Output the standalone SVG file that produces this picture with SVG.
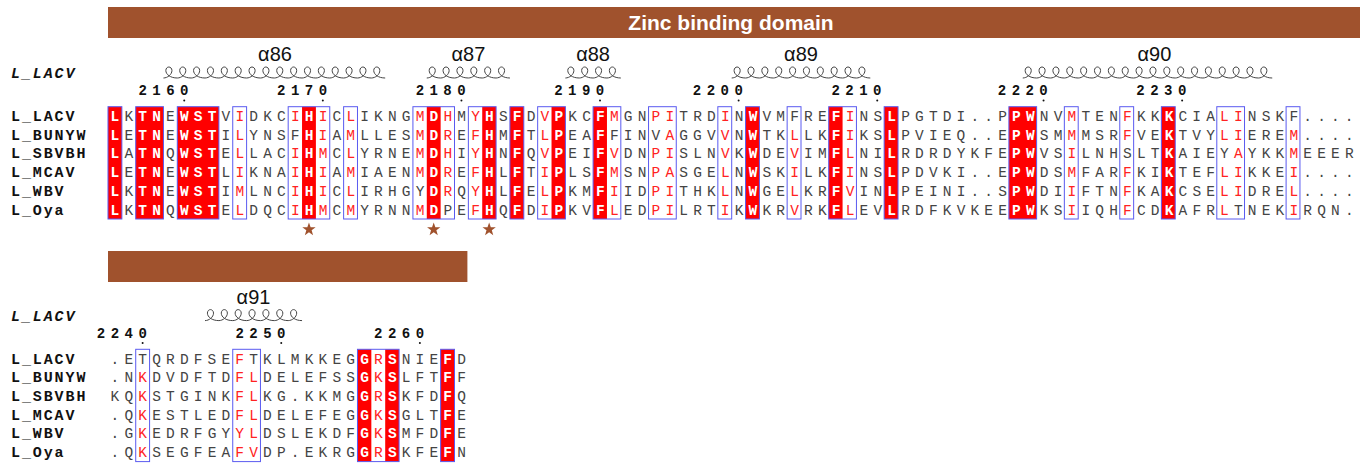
<svg xmlns="http://www.w3.org/2000/svg" xmlns:xlink="http://www.w3.org/1999/xlink" width="1368" height="468" viewBox="0 0 1368 468">
<style>
.bar{fill:#a0522d}
.bartxt{font-family:"Liberation Sans",Arial,sans-serif;font-size:21px;font-weight:bold;fill:#fff;text-anchor:middle}
.seq{font-family:"Liberation Mono",monospace;font-size:14.5px;letter-spacing:5.16px;fill:#444}
.seq .w{fill:#fff;font-weight:bold}
.seq .r{fill:#f22}
.name{font-family:"Liberation Mono",monospace;font-size:15px;font-weight:bold;letter-spacing:1.9px;fill:#111}
.ref{font-style:italic}
.num{font-family:"Liberation Mono",monospace;font-size:14px;font-weight:bold;text-anchor:middle;fill:#111}
.dot{fill:#111}
.hx{fill:none;stroke:#444;stroke-width:1}
.hl{font-family:"Liberation Sans",Arial,sans-serif;font-size:20px;text-anchor:middle;fill:#111}
.id{fill:#f00}
.frame{fill:none;stroke:#5a5af0;stroke-width:1}
.star{fill:#a0522d}
</style>
<defs>
<path id="star" d="M0 -7L1.65 -2.27L6.66 -2.16L2.66 0.86L4.11 5.66L0 2.8L-4.11 5.66L-2.66 0.86L-6.66 -2.16L-1.65 -2.27Z"/>
</defs>

<!-- domain bars -->
<g id="domain-bar-1">
<rect class="bar" x="108" y="7" width="1252" height="31"/>
<text class="bartxt" x="731" y="29.5">Zinc binding domain</text>
</g>
<g id="domain-bar-2">
<rect class="bar" x="108" y="251" width="359.4" height="31"/>
</g>

<!-- block 1: residues 2155-2238 -->
<g id="block1">
<g id="helices1">
<path class="hx" d="M163.44 78c4 0 8.5-3.5 8.5-7.5c0-2.2-1.6-3.5-3.1-3.5c-1.5 0-3 1.3-3 3.5c0 4 4.6 7.5 11.46 7.5c4 0 8.5-3.5 8.5-7.5c0-2.2-1.6-3.5-3.1-3.5c-1.5 0-3 1.3-3 3.5c0 4 4.6 7.5 11.46 7.5c4 0 8.5-3.5 8.5-7.5c0-2.2-1.6-3.5-3.1-3.5c-1.5 0-3 1.3-3 3.5c0 4 4.6 7.5 11.46 7.5c4 0 8.5-3.5 8.5-7.5c0-2.2-1.6-3.5-3.1-3.5c-1.5 0-3 1.3-3 3.5c0 4 4.6 7.5 11.46 7.5c4 0 8.5-3.5 8.5-7.5c0-2.2-1.6-3.5-3.1-3.5c-1.5 0-3 1.3-3 3.5c0 4 4.6 7.5 11.46 7.5c4 0 8.5-3.5 8.5-7.5c0-2.2-1.6-3.5-3.1-3.5c-1.5 0-3 1.3-3 3.5c0 4 4.6 7.5 11.46 7.5c4 0 8.5-3.5 8.5-7.5c0-2.2-1.6-3.5-3.1-3.5c-1.5 0-3 1.3-3 3.5c0 4 4.6 7.5 11.46 7.5c4 0 8.5-3.5 8.5-7.5c0-2.2-1.6-3.5-3.1-3.5c-1.5 0-3 1.3-3 3.5c0 4 4.6 7.5 11.46 7.5c4 0 8.5-3.5 8.5-7.5c0-2.2-1.6-3.5-3.1-3.5c-1.5 0-3 1.3-3 3.5c0 4 4.6 7.5 11.46 7.5c4 0 8.5-3.5 8.5-7.5c0-2.2-1.6-3.5-3.1-3.5c-1.5 0-3 1.3-3 3.5c0 4 4.6 7.5 11.46 7.5c4 0 8.5-3.5 8.5-7.5c0-2.2-1.6-3.5-3.1-3.5c-1.5 0-3 1.3-3 3.5c0 4 4.6 7.5 11.46 7.5c4 0 8.5-3.5 8.5-7.5c0-2.2-1.6-3.5-3.1-3.5c-1.5 0-3 1.3-3 3.5c0 4 4.6 7.5 11.46 7.5c4 0 8.5-3.5 8.5-7.5c0-2.2-1.6-3.5-3.1-3.5c-1.5 0-3 1.3-3 3.5c0 4 4.6 7.5 11.46 7.5c4 0 8.5-3.5 8.5-7.5c0-2.2-1.6-3.5-3.1-3.5c-1.5 0-3 1.3-3 3.5c0 4 4.6 7.5 11.46 7.5c4 0 8.5-3.5 8.5-7.5c0-2.2-1.6-3.5-3.1-3.5c-1.5 0-3 1.3-3 3.5c0 4 4.6 7.5 11.46 7.5c4 0 8.5-3.5 8.5-7.5c0-2.2-1.6-3.5-3.1-3.5c-1.5 0-3 1.3-3 3.5c0 4 4.6 7.5 11.46 7.5"/>
<path class="hx" d="M426.78 78c4 0 8.5-3.5 8.5-7.5c0-2.2-1.6-3.5-3.1-3.5c-1.5 0-3 1.3-3 3.5c0 4 4.6 7.5 11.46 7.5c4 0 8.5-3.5 8.5-7.5c0-2.2-1.6-3.5-3.1-3.5c-1.5 0-3 1.3-3 3.5c0 4 4.6 7.5 11.46 7.5c4 0 8.5-3.5 8.5-7.5c0-2.2-1.6-3.5-3.1-3.5c-1.5 0-3 1.3-3 3.5c0 4 4.6 7.5 11.46 7.5c4 0 8.5-3.5 8.5-7.5c0-2.2-1.6-3.5-3.1-3.5c-1.5 0-3 1.3-3 3.5c0 4 4.6 7.5 11.46 7.5c4 0 8.5-3.5 8.5-7.5c0-2.2-1.6-3.5-3.1-3.5c-1.5 0-3 1.3-3 3.5c0 4 4.6 7.5 11.46 7.5c4 0 8.5-3.5 8.5-7.5c0-2.2-1.6-3.5-3.1-3.5c-1.5 0-3 1.3-3 3.5c0 4 4.6 7.5 11.46 7.5"/>
<path class="hx" d="M565.38 78c4 0 8.5-3.5 8.5-7.5c0-2.2-1.6-3.5-3.1-3.5c-1.5 0-3 1.3-3 3.5c0 4 4.6 7.5 11.46 7.5c4 0 8.5-3.5 8.5-7.5c0-2.2-1.6-3.5-3.1-3.5c-1.5 0-3 1.3-3 3.5c0 4 4.6 7.5 11.46 7.5c4 0 8.5-3.5 8.5-7.5c0-2.2-1.6-3.5-3.1-3.5c-1.5 0-3 1.3-3 3.5c0 4 4.6 7.5 11.46 7.5c4 0 8.5-3.5 8.5-7.5c0-2.2-1.6-3.5-3.1-3.5c-1.5 0-3 1.3-3 3.5c0 4 4.6 7.5 11.46 7.5"/>
<path class="hx" d="M731.7 78c4 0 8.5-3.5 8.5-7.5c0-2.2-1.6-3.5-3.1-3.5c-1.5 0-3 1.3-3 3.5c0 4 4.6 7.5 11.46 7.5c4 0 8.5-3.5 8.5-7.5c0-2.2-1.6-3.5-3.1-3.5c-1.5 0-3 1.3-3 3.5c0 4 4.6 7.5 11.46 7.5c4 0 8.5-3.5 8.5-7.5c0-2.2-1.6-3.5-3.1-3.5c-1.5 0-3 1.3-3 3.5c0 4 4.6 7.5 11.46 7.5c4 0 8.5-3.5 8.5-7.5c0-2.2-1.6-3.5-3.1-3.5c-1.5 0-3 1.3-3 3.5c0 4 4.6 7.5 11.46 7.5c4 0 8.5-3.5 8.5-7.5c0-2.2-1.6-3.5-3.1-3.5c-1.5 0-3 1.3-3 3.5c0 4 4.6 7.5 11.46 7.5c4 0 8.5-3.5 8.5-7.5c0-2.2-1.6-3.5-3.1-3.5c-1.5 0-3 1.3-3 3.5c0 4 4.6 7.5 11.46 7.5c4 0 8.5-3.5 8.5-7.5c0-2.2-1.6-3.5-3.1-3.5c-1.5 0-3 1.3-3 3.5c0 4 4.6 7.5 11.46 7.5c4 0 8.5-3.5 8.5-7.5c0-2.2-1.6-3.5-3.1-3.5c-1.5 0-3 1.3-3 3.5c0 4 4.6 7.5 11.46 7.5c4 0 8.5-3.5 8.5-7.5c0-2.2-1.6-3.5-3.1-3.5c-1.5 0-3 1.3-3 3.5c0 4 4.6 7.5 11.46 7.5c4 0 8.5-3.5 8.5-7.5c0-2.2-1.6-3.5-3.1-3.5c-1.5 0-3 1.3-3 3.5c0 4 4.6 7.5 11.46 7.5"/>
<path class="hx" d="M1022.76 78c4 0 8.5-3.5 8.5-7.5c0-2.2-1.6-3.5-3.1-3.5c-1.5 0-3 1.3-3 3.5c0 4 4.6 7.5 11.46 7.5c4 0 8.5-3.5 8.5-7.5c0-2.2-1.6-3.5-3.1-3.5c-1.5 0-3 1.3-3 3.5c0 4 4.6 7.5 11.46 7.5c4 0 8.5-3.5 8.5-7.5c0-2.2-1.6-3.5-3.1-3.5c-1.5 0-3 1.3-3 3.5c0 4 4.6 7.5 11.46 7.5c4 0 8.5-3.5 8.5-7.5c0-2.2-1.6-3.5-3.1-3.5c-1.5 0-3 1.3-3 3.5c0 4 4.6 7.5 11.46 7.5c4 0 8.5-3.5 8.5-7.5c0-2.2-1.6-3.5-3.1-3.5c-1.5 0-3 1.3-3 3.5c0 4 4.6 7.5 11.46 7.5c4 0 8.5-3.5 8.5-7.5c0-2.2-1.6-3.5-3.1-3.5c-1.5 0-3 1.3-3 3.5c0 4 4.6 7.5 11.46 7.5c4 0 8.5-3.5 8.5-7.5c0-2.2-1.6-3.5-3.1-3.5c-1.5 0-3 1.3-3 3.5c0 4 4.6 7.5 11.46 7.5c4 0 8.5-3.5 8.5-7.5c0-2.2-1.6-3.5-3.1-3.5c-1.5 0-3 1.3-3 3.5c0 4 4.6 7.5 11.46 7.5c4 0 8.5-3.5 8.5-7.5c0-2.2-1.6-3.5-3.1-3.5c-1.5 0-3 1.3-3 3.5c0 4 4.6 7.5 11.46 7.5c4 0 8.5-3.5 8.5-7.5c0-2.2-1.6-3.5-3.1-3.5c-1.5 0-3 1.3-3 3.5c0 4 4.6 7.5 11.46 7.5c4 0 8.5-3.5 8.5-7.5c0-2.2-1.6-3.5-3.1-3.5c-1.5 0-3 1.3-3 3.5c0 4 4.6 7.5 11.46 7.5c4 0 8.5-3.5 8.5-7.5c0-2.2-1.6-3.5-3.1-3.5c-1.5 0-3 1.3-3 3.5c0 4 4.6 7.5 11.46 7.5c4 0 8.5-3.5 8.5-7.5c0-2.2-1.6-3.5-3.1-3.5c-1.5 0-3 1.3-3 3.5c0 4 4.6 7.5 11.46 7.5c4 0 8.5-3.5 8.5-7.5c0-2.2-1.6-3.5-3.1-3.5c-1.5 0-3 1.3-3 3.5c0 4 4.6 7.5 11.46 7.5c4 0 8.5-3.5 8.5-7.5c0-2.2-1.6-3.5-3.1-3.5c-1.5 0-3 1.3-3 3.5c0 4 4.6 7.5 11.46 7.5c4 0 8.5-3.5 8.5-7.5c0-2.2-1.6-3.5-3.1-3.5c-1.5 0-3 1.3-3 3.5c0 4 4.6 7.5 11.46 7.5c4 0 8.5-3.5 8.5-7.5c0-2.2-1.6-3.5-3.1-3.5c-1.5 0-3 1.3-3 3.5c0 4 4.6 7.5 11.46 7.5c4 0 8.5-3.5 8.5-7.5c0-2.2-1.6-3.5-3.1-3.5c-1.5 0-3 1.3-3 3.5c0 4 4.6 7.5 11.46 7.5"/>
<text class="hl" x="275" y="60.5">α86</text>
<text class="hl" x="468.4" y="60.5">α87</text>
<text class="hl" x="593.1" y="60.5">α88</text>
<text class="hl" x="801" y="60.5">α89</text>
<text class="hl" x="1154.4" y="60.5">α90</text>
</g>
<g id="numbering1">
<text class="num" x="142.65 156.51 170.37 184.23" y="95">2160</text>
<text class="num" x="281.25 295.11 308.97 322.83" y="95">2170</text>
<text class="num" x="419.85 433.71 447.57 461.43" y="95">2180</text>
<text class="num" x="558.45 572.31 586.17 600.03" y="95">2190</text>
<text class="num" x="697.05 710.91 724.77 738.63" y="95">2200</text>
<text class="num" x="835.65 849.51 863.37 877.23" y="95">2210</text>
<text class="num" x="1001.97 1015.83 1029.69 1043.55" y="95">2220</text>
<text class="num" x="1140.57 1154.43 1168.29 1182.15" y="95">2230</text>
<circle class="dot" cx="184.23" cy="100.5" r="1"/>
<circle class="dot" cx="322.83" cy="100.5" r="1"/>
<circle class="dot" cx="461.43" cy="100.5" r="1"/>
<circle class="dot" cx="600.03" cy="100.5" r="1"/>
<circle class="dot" cx="738.63" cy="100.5" r="1"/>
<circle class="dot" cx="877.23" cy="100.5" r="1"/>
<circle class="dot" cx="1043.55" cy="100.5" r="1"/>
<circle class="dot" cx="1182.15" cy="100.5" r="1"/>
</g>
<g id="identity1">
<rect class="id" x="108" y="106.7" width="13.86" height="112.3"/>
<rect class="id" x="135.72" y="106.7" width="27.72" height="112.3"/>
<rect class="id" x="177.3" y="106.7" width="41.58" height="112.3"/>
<rect class="id" x="302.04" y="106.7" width="13.86" height="112.3"/>
<rect class="id" x="426.78" y="106.7" width="13.86" height="112.3"/>
<rect class="id" x="482.22" y="106.7" width="13.86" height="112.3"/>
<rect class="id" x="509.94" y="106.7" width="13.86" height="112.3"/>
<rect class="id" x="551.52" y="106.7" width="13.86" height="112.3"/>
<rect class="id" x="593.1" y="106.7" width="13.86" height="112.3"/>
<rect class="id" x="745.56" y="106.7" width="13.86" height="112.3"/>
<rect class="id" x="828.72" y="106.7" width="13.86" height="112.3"/>
<rect class="id" x="884.16" y="106.7" width="13.86" height="112.3"/>
<rect class="id" x="1008.9" y="106.7" width="27.72" height="112.3"/>
<rect class="id" x="1161.36" y="106.7" width="13.86" height="112.3"/>
</g>
<g id="frames1">
<rect class="frame" x="108" y="106.7" width="13.86" height="112.3"/>
<rect class="frame" x="135.72" y="106.7" width="27.72" height="112.3"/>
<rect class="frame" x="177.3" y="106.7" width="41.58" height="112.3"/>
<rect class="frame" x="232.74" y="106.7" width="13.86" height="112.3"/>
<rect class="frame" x="288.18" y="106.7" width="41.58" height="112.3"/>
<rect class="frame" x="343.62" y="106.7" width="13.86" height="112.3"/>
<rect class="frame" x="412.92" y="106.7" width="41.58" height="112.3"/>
<rect class="frame" x="468.36" y="106.7" width="27.72" height="112.3"/>
<rect class="frame" x="509.94" y="106.7" width="13.86" height="112.3"/>
<rect class="frame" x="537.66" y="106.7" width="27.72" height="112.3"/>
<rect class="frame" x="593.1" y="106.7" width="27.72" height="112.3"/>
<rect class="frame" x="648.54" y="106.7" width="27.72" height="112.3"/>
<rect class="frame" x="717.84" y="106.7" width="13.86" height="112.3"/>
<rect class="frame" x="745.56" y="106.7" width="13.86" height="112.3"/>
<rect class="frame" x="787.14" y="106.7" width="13.86" height="112.3"/>
<rect class="frame" x="828.72" y="106.7" width="27.72" height="112.3"/>
<rect class="frame" x="884.16" y="106.7" width="13.86" height="112.3"/>
<rect class="frame" x="1008.9" y="106.7" width="27.72" height="112.3"/>
<rect class="frame" x="1064.34" y="106.7" width="13.86" height="112.3"/>
<rect class="frame" x="1119.78" y="106.7" width="13.86" height="112.3"/>
<rect class="frame" x="1161.36" y="106.7" width="13.86" height="112.3"/>
<rect class="frame" x="1216.8" y="106.7" width="27.72" height="112.3"/>
<rect class="frame" x="1286.1" y="106.7" width="13.86" height="112.3"/>
</g>
<g id="names1">
<text class="name ref" x="11" y="78">L_LACV</text>
<text class="name" x="11" y="121">L_LACV</text>
<text class="name" x="11" y="139.72">L_BUNYW</text>
<text class="name" x="11" y="158.44">L_SBVBH</text>
<text class="name" x="11" y="177.16">L_MCAV</text>
<text class="name" x="11" y="195.88">L_WBV</text>
<text class="name" x="11" y="214.6">L_Oya</text>
</g>
<g id="sequences1">
<text class="seq" x="110.58" y="121"><tspan class="w">L</tspan>K<tspan class="w">TN</tspan>E<tspan class="w">WST</tspan>V<tspan class="r">I</tspan>DKC<tspan class="r">I</tspan><tspan class="w">H</tspan><tspan class="r">I</tspan>C<tspan class="r">L</tspan>IKNG<tspan class="r">M</tspan><tspan class="w">D</tspan><tspan class="r">H</tspan>M<tspan class="r">Y</tspan><tspan class="w">H</tspan>S<tspan class="w">F</tspan>D<tspan class="r">V</tspan><tspan class="w">P</tspan>KC<tspan class="w">F</tspan><tspan class="r">M</tspan>GN<tspan class="r">PI</tspan>TRD<tspan class="r">I</tspan>N<tspan class="w">W</tspan>VMFRE<tspan class="w">F</tspan><tspan class="r">I</tspan>NS<tspan class="w">L</tspan>PGTDI..P<tspan class="w">PW</tspan>NV<tspan class="r">M</tspan>TEN<tspan class="r">F</tspan>KK<tspan class="w">K</tspan>CIA<tspan class="r">LI</tspan>NSKF....</text>
<text class="seq" x="110.58" y="139.72"><tspan class="w">L</tspan>E<tspan class="w">TN</tspan>E<tspan class="w">WST</tspan>I<tspan class="r">L</tspan>YNSF<tspan class="w">H</tspan><tspan class="r">I</tspan>A<tspan class="r">M</tspan>LLES<tspan class="r">M</tspan><tspan class="w">D</tspan><tspan class="r">R</tspan>E<tspan class="r">F</tspan><tspan class="w">H</tspan>M<tspan class="w">F</tspan>T<tspan class="r">L</tspan><tspan class="w">P</tspan>EA<tspan class="w">F</tspan>FINV<tspan class="r">A</tspan>GGV<tspan class="r">V</tspan>N<tspan class="w">W</tspan>TK<tspan class="r">L</tspan>LK<tspan class="w">F</tspan><tspan class="r">I</tspan>KS<tspan class="w">L</tspan>PVIEQ..E<tspan class="w">PW</tspan>SM<tspan class="r">M</tspan>MSR<tspan class="r">F</tspan>VE<tspan class="w">K</tspan>TVY<tspan class="r">LI</tspan>ERE<tspan class="r">M</tspan>....</text>
<text class="seq" x="110.58" y="158.44"><tspan class="w">L</tspan>A<tspan class="w">TN</tspan>Q<tspan class="w">WST</tspan>E<tspan class="r">L</tspan>LAC<tspan class="r">I</tspan><tspan class="w">H</tspan><tspan class="r">M</tspan>C<tspan class="r">L</tspan>YRNE<tspan class="r">M</tspan><tspan class="w">D</tspan><tspan class="r">H</tspan>I<tspan class="r">Y</tspan><tspan class="w">H</tspan>N<tspan class="w">F</tspan>Q<tspan class="r">V</tspan><tspan class="w">P</tspan>EI<tspan class="w">F</tspan><tspan class="r">V</tspan>DN<tspan class="r">PI</tspan>SLN<tspan class="r">V</tspan>K<tspan class="w">W</tspan>DE<tspan class="r">V</tspan>IM<tspan class="w">F</tspan><tspan class="r">L</tspan>NI<tspan class="w">L</tspan>RDRDYKFE<tspan class="w">PW</tspan>VS<tspan class="r">I</tspan>LNHSLT<tspan class="w">K</tspan>AIEY<tspan class="r">A</tspan>YKK<tspan class="r">M</tspan>EEER</text>
<text class="seq" x="110.58" y="177.16"><tspan class="w">L</tspan>E<tspan class="w">TN</tspan>E<tspan class="w">WST</tspan>L<tspan class="r">I</tspan>KNA<tspan class="r">I</tspan><tspan class="w">H</tspan><tspan class="r">I</tspan>A<tspan class="r">M</tspan>IAEN<tspan class="r">M</tspan><tspan class="w">D</tspan><tspan class="r">R</tspan>E<tspan class="r">F</tspan><tspan class="w">H</tspan>L<tspan class="w">F</tspan>T<tspan class="r">I</tspan><tspan class="w">P</tspan>LS<tspan class="w">F</tspan><tspan class="r">M</tspan>SN<tspan class="r">PA</tspan>SGE<tspan class="r">L</tspan>N<tspan class="w">W</tspan>SK<tspan class="r">I</tspan>LK<tspan class="w">F</tspan><tspan class="r">I</tspan>NS<tspan class="w">L</tspan>PDVKI..E<tspan class="w">PW</tspan>DS<tspan class="r">M</tspan>FAR<tspan class="r">F</tspan>KI<tspan class="w">K</tspan>TEF<tspan class="r">LI</tspan>KKE<tspan class="r">I</tspan>....</text>
<text class="seq" x="110.58" y="195.88"><tspan class="w">L</tspan>K<tspan class="w">TN</tspan>E<tspan class="w">WST</tspan>I<tspan class="r">M</tspan>LNC<tspan class="r">I</tspan><tspan class="w">H</tspan><tspan class="r">I</tspan>C<tspan class="r">L</tspan>IRHGY<tspan class="w">D</tspan><tspan class="r">R</tspan>Q<tspan class="r">Y</tspan><tspan class="w">H</tspan>L<tspan class="w">F</tspan>E<tspan class="r">L</tspan><tspan class="w">P</tspan>KM<tspan class="w">F</tspan><tspan class="r">I</tspan>ID<tspan class="r">PI</tspan>THK<tspan class="r">L</tspan>N<tspan class="w">W</tspan>GE<tspan class="r">L</tspan>KR<tspan class="w">F</tspan><tspan class="r">V</tspan>IN<tspan class="w">L</tspan>PEINI..S<tspan class="w">PW</tspan>DI<tspan class="r">I</tspan>FTN<tspan class="r">F</tspan>KA<tspan class="w">K</tspan>CSE<tspan class="r">LI</tspan>DRE<tspan class="r">L</tspan>....</text>
<text class="seq" x="110.58" y="214.6"><tspan class="w">L</tspan>K<tspan class="w">TN</tspan>Q<tspan class="w">WST</tspan>E<tspan class="r">L</tspan>DQC<tspan class="r">I</tspan><tspan class="w">H</tspan><tspan class="r">M</tspan>C<tspan class="r">M</tspan>YRNN<tspan class="r">M</tspan><tspan class="w">D</tspan>PE<tspan class="r">F</tspan><tspan class="w">H</tspan>Q<tspan class="w">F</tspan>D<tspan class="r">I</tspan><tspan class="w">P</tspan>KV<tspan class="w">F</tspan><tspan class="r">L</tspan>ED<tspan class="r">PI</tspan>LRT<tspan class="r">I</tspan>K<tspan class="w">W</tspan>KR<tspan class="r">V</tspan>RK<tspan class="w">F</tspan><tspan class="r">L</tspan>EV<tspan class="w">L</tspan>RDFKVKEE<tspan class="w">PW</tspan>KS<tspan class="r">I</tspan>IQH<tspan class="r">F</tspan>CD<tspan class="w">K</tspan>AFR<tspan class="r">L</tspan>TNEK<tspan class="r">I</tspan>RQN.</text>
</g>
<g id="zinc-ligands">
<use xlink:href="#star" class="star" x="308.97" y="229.5"/>
<use xlink:href="#star" class="star" x="433.71" y="229.5"/>
<use xlink:href="#star" class="star" x="489.15" y="229.5"/>
</g>
</g>

<!-- block 2: residues 2239-2262 -->
<g id="block2">
<g id="helices2">
<path class="hx" d="M205.02 320.6c4 0 8.5-3.5 8.5-7.5c0-2.2-1.6-3.5-3.1-3.5c-1.5 0-3 1.3-3 3.5c0 4 4.6 7.5 11.46 7.5c4 0 8.5-3.5 8.5-7.5c0-2.2-1.6-3.5-3.1-3.5c-1.5 0-3 1.3-3 3.5c0 4 4.6 7.5 11.46 7.5c4 0 8.5-3.5 8.5-7.5c0-2.2-1.6-3.5-3.1-3.5c-1.5 0-3 1.3-3 3.5c0 4 4.6 7.5 11.46 7.5c4 0 8.5-3.5 8.5-7.5c0-2.2-1.6-3.5-3.1-3.5c-1.5 0-3 1.3-3 3.5c0 4 4.6 7.5 11.46 7.5c4 0 8.5-3.5 8.5-7.5c0-2.2-1.6-3.5-3.1-3.5c-1.5 0-3 1.3-3 3.5c0 4 4.6 7.5 11.46 7.5c4 0 8.5-3.5 8.5-7.5c0-2.2-1.6-3.5-3.1-3.5c-1.5 0-3 1.3-3 3.5c0 4 4.6 7.5 11.46 7.5c4 0 8.5-3.5 8.5-7.5c0-2.2-1.6-3.5-3.1-3.5c-1.5 0-3 1.3-3 3.5c0 4 4.6 7.5 11.46 7.5"/>
<text class="hl" x="253.5" y="304">α91</text>
</g>
<g id="numbering2">
<text class="num" x="101.07 114.93 128.79 142.65" y="337.6">2240</text>
<text class="num" x="239.67 253.53 267.39 281.25" y="337.6">2250</text>
<text class="num" x="378.27 392.13 405.99 419.85" y="337.6">2260</text>
<circle class="dot" cx="142.65" cy="343" r="1"/>
<circle class="dot" cx="281.25" cy="343" r="1"/>
<circle class="dot" cx="419.85" cy="343" r="1"/>
</g>
<g id="identity2">
<rect class="id" x="357.48" y="349.3" width="13.86" height="112.3"/>
<rect class="id" x="385.2" y="349.3" width="13.86" height="112.3"/>
<rect class="id" x="440.64" y="349.3" width="13.86" height="112.3"/>
</g>
<g id="frames2">
<rect class="frame" x="135.72" y="349.3" width="13.86" height="112.3"/>
<rect class="frame" x="232.74" y="349.3" width="27.72" height="112.3"/>
<rect class="frame" x="357.48" y="349.3" width="41.58" height="112.3"/>
<rect class="frame" x="440.64" y="349.3" width="13.86" height="112.3"/>
</g>
<g id="names2">
<text class="name ref" x="11" y="320.6">L_LACV</text>
<text class="name" x="11" y="363.6">L_LACV</text>
<text class="name" x="11" y="382.32">L_BUNYW</text>
<text class="name" x="11" y="401.04">L_SBVBH</text>
<text class="name" x="11" y="419.76">L_MCAV</text>
<text class="name" x="11" y="438.48">L_WBV</text>
<text class="name" x="11" y="457.2">L_Oya</text>
</g>
<g id="sequences2">
<text class="seq" x="110.58" y="363.6">.ETQRDFSE<tspan class="r">F</tspan>TKLMKKEG<tspan class="w">G</tspan><tspan class="r">R</tspan><tspan class="w">S</tspan>NIE<tspan class="w">F</tspan>D</text>
<text class="seq" x="110.58" y="382.32">.N<tspan class="r">K</tspan>DVDFTD<tspan class="r">FL</tspan>DELEFSS<tspan class="w">G</tspan><tspan class="r">K</tspan><tspan class="w">S</tspan>LFT<tspan class="w">F</tspan>F</text>
<text class="seq" x="110.58" y="401.04">KQ<tspan class="r">K</tspan>STGINK<tspan class="r">FL</tspan>KG.KKMG<tspan class="w">G</tspan><tspan class="r">R</tspan><tspan class="w">S</tspan>KFD<tspan class="w">F</tspan>Q</text>
<text class="seq" x="110.58" y="419.76">.Q<tspan class="r">K</tspan>ESTLED<tspan class="r">FL</tspan>DELEFEG<tspan class="w">G</tspan><tspan class="r">K</tspan><tspan class="w">S</tspan>GLT<tspan class="w">F</tspan>E</text>
<text class="seq" x="110.58" y="438.48">.G<tspan class="r">K</tspan>EDRFGY<tspan class="r">YL</tspan>DSLEKDF<tspan class="w">G</tspan><tspan class="r">K</tspan><tspan class="w">S</tspan>MFD<tspan class="w">F</tspan>E</text>
<text class="seq" x="110.58" y="457.2">.Q<tspan class="r">K</tspan>SEGFEA<tspan class="r">FV</tspan>DP.EKRG<tspan class="w">G</tspan><tspan class="r">R</tspan><tspan class="w">S</tspan>KFE<tspan class="w">F</tspan>N</text>
</g>
</g>
</svg>
